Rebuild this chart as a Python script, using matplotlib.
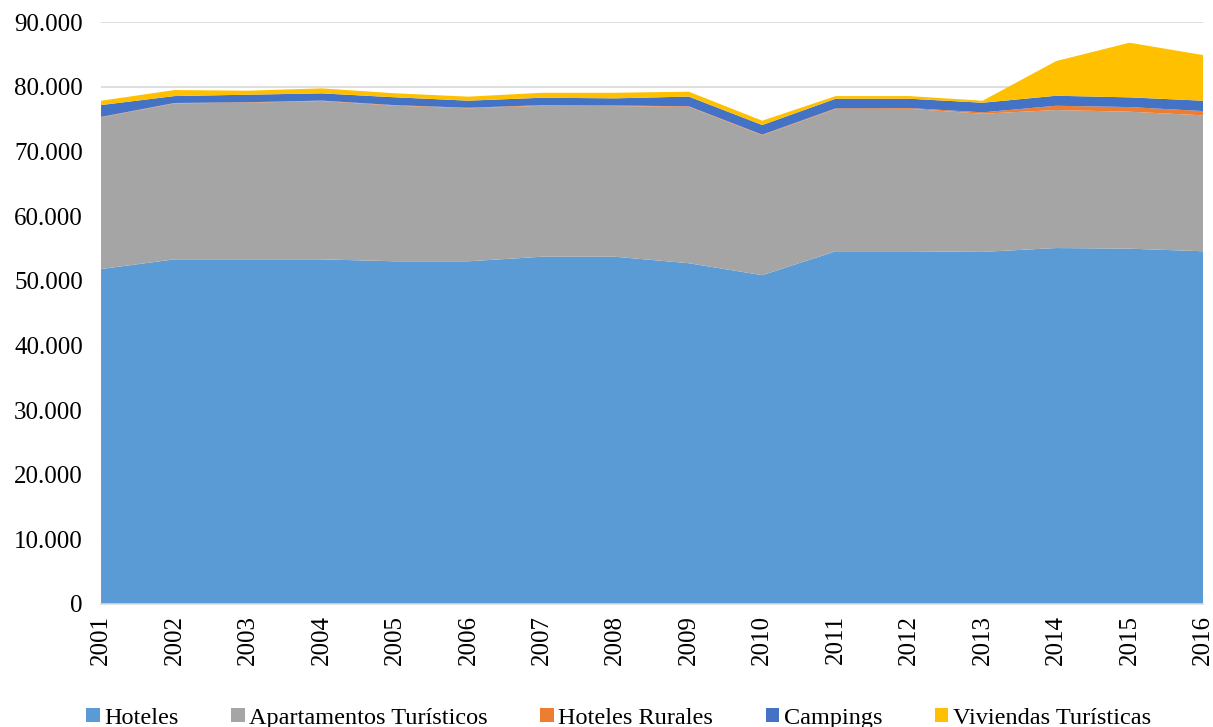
import matplotlib
matplotlib.use("Agg")
import matplotlib.pyplot as plt
from matplotlib.ticker import FuncFormatter
from matplotlib.patches import Patch

years = [2001, 2002, 2003, 2004, 2005, 2006, 2007, 2008, 2009, 2010, 2011, 2012, 2013, 2014, 2015, 2016]
hoteles = [51800, 53300, 53300, 53300, 53000, 53000, 53700, 53700, 52700, 50850, 54550, 54550, 54450, 55050, 54950, 54550]
apartamentos = [23460, 24120, 24220, 24480, 24060, 23660, 23350, 23300, 24170, 21630, 21990, 22030, 21370, 21340, 21180, 21020]
rurales = [60, 60, 70, 70, 80, 80, 90, 90, 100, 100, 110, 120, 210, 660, 720, 660]
campings = [1840, 1070, 1170, 1120, 1220, 1100, 1150, 1110, 1500, 1490, 1490, 1440, 1490, 1550, 1500, 1600]
viviendas = [670, 930, 620, 770, 620, 620, 770, 860, 760, 670, 410, 410, 310, 5360, 8450, 7060]

labels = ["Hoteles", "Apartamentos Turísticos", "Hoteles Rurales", "Campings", "Viviendas Turísticas"]
colors = ["#5B9BD5", "#A5A5A5", "#ED7D31", "#4472C4", "#FFC000"]

plt.rcParams['font.family'] = ['Liberation Serif', 'DejaVu Serif']

fig = plt.figure(figsize=(12.13, 7.27), dpi=100)
ax = fig.add_axes([0.0833, 0.1692, 0.9085, 0.8005])

ax.stackplot(years, hoteles, apartamentos, rurales, campings, viviendas,
             colors=colors, linewidth=0, zorder=2)

ax.set_xlim(2001, 2016)
ax.set_ylim(0, 90000)
ax.set_yticks(range(0, 90001, 10000))
ax.yaxis.set_major_formatter(FuncFormatter(lambda v, p: "0" if v == 0 else f"{int(v):,}".replace(",", ".")))
ax.set_xticks(years)
ax.set_xticklabels([str(y) for y in years], rotation=90)
ax.grid(axis='y', color='#D9D9D9', linewidth=1.2, zorder=0)
ax.set_axisbelow(True)
for s in ['top', 'right', 'left']:
    ax.spines[s].set_visible(False)
ax.spines['bottom'].set_color('#D9D9D9')
ax.spines['bottom'].set_linewidth(1.2)
ax.tick_params(axis='both', length=0, labelsize=18, colors='black')
ax.tick_params(axis='x', pad=8)
ax.tick_params(axis='y', pad=13)

handles = [Patch(facecolor=c, edgecolor='none') for c in colors]
fig.legend(handles, labels, loc='center', bbox_to_anchor=(0.51, 0.012), ncol=5,
           frameon=False, fontsize=17.5, handlelength=0.55, handleheight=0.55,
           handletextpad=0.2, columnspacing=2.15)

fig.savefig("out.png", dpi=100)
